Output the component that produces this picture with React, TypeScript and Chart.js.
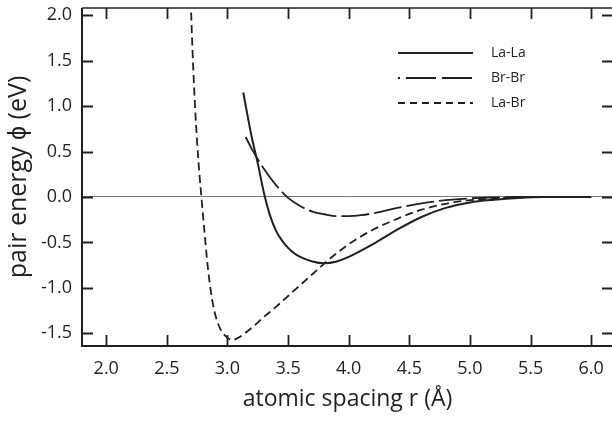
import React, { useEffect, useRef } from 'react';
import { Chart, registerables } from 'chart.js';

Chart.register(...registerables);

// ---- data ----
const seriesLabels = ['La-La', 'Br-Br', 'La-Br'];

const laLaR = [3.13, 3.2, 3.25, 3.3, 3.35, 3.4, 3.45, 3.5, 3.55, 3.6, 3.7, 3.8, 3.9, 4.0, 4.2, 4.4, 4.6, 4.8, 5.0, 5.2, 5.4, 5.6, 5.8, 6.0];
const laLaE = [1.15, 0.66, 0.37, 0.05, -0.2, -0.37, -0.48, -0.56, -0.62, -0.66, -0.71, -0.73, -0.71, -0.66, -0.52, -0.36, -0.22, -0.12, -0.06, -0.03, -0.01, 0, 0, 0];

const brBrR = [3.15, 3.2, 3.3, 3.4, 3.5, 3.6, 3.7, 3.8, 3.9, 4.0, 4.1, 4.2, 4.4, 4.6, 4.8, 5.0, 5.2, 5.4, 5.6, 6.0];
const brBrE = [0.66, 0.53, 0.31, 0.13, -0.01, -0.1, -0.16, -0.19, -0.21, -0.21, -0.2, -0.18, -0.12, -0.07, -0.035, -0.015, -0.005, 0, 0, 0];

const laBrR = [2.7, 2.715, 2.735, 2.76, 2.785, 2.81, 2.84, 2.88, 2.93, 3.0, 3.05, 3.1, 3.2, 3.3, 3.4, 3.5, 3.6, 3.7, 3.8, 3.9, 4.0, 4.2, 4.4, 4.6, 4.8, 5.0, 5.2, 5.4, 5.6, 6.0];
const laBrE = [2.03, 1.5, 0.93, 0.4, 0.0, -0.38, -0.8, -1.18, -1.42, -1.55, -1.57, -1.54, -1.44, -1.32, -1.21, -1.09, -0.97, -0.85, -0.73, -0.62, -0.52, -0.36, -0.24, -0.14, -0.075, -0.035, -0.015, -0.005, 0, 0];

const xTicks = [2.0, 2.5, 3.0, 3.5, 4.0, 4.5, 5.0, 5.5, 6.0];
const yTicks = [-1.5, -1.0, -0.5, 0.0, 0.5, 1.0, 1.5, 2.0];
const xRange = [1.8, 6.18];
const yRange = [-1.64, 2.08];

const xTitle = 'atomic spacing r (Å)';
const yTitle = 'pair energy ϕ (eV)';

const INK = '#231f20';
const FONT = "'Open Sans', sans-serif";

const toPts = (xs: number[], ys: number[]) => xs.map((x, i) => ({ x, y: ys[i] }));

const framePlugin = {
  id: 'frameTicksLegend',
  afterDatasetsDraw(chart: any) {
    const { ctx, chartArea, scales } = chart;
    const { left, right, top, bottom } = chartArea;
    const xs = scales.x;
    const ys = scales.y;
    ctx.save();
    ctx.strokeStyle = INK;
    ctx.lineCap = 'butt';
    // frame
    ctx.lineWidth = 2;
    ctx.beginPath();
    ctx.moveTo(left, top);
    ctx.lineTo(left, bottom);
    ctx.lineTo(right, bottom);
    ctx.stroke();
    ctx.lineWidth = 1.6;
    ctx.beginPath();
    ctx.moveTo(left, top);
    ctx.lineTo(right, top);
    ctx.moveTo(right, top);
    ctx.lineTo(right, bottom);
    ctx.stroke();
    // inner ticks
    const tl = 11;
    ctx.lineWidth = 1.8;
    ctx.beginPath();
    xTicks.forEach((v) => {
      const p = Math.round(xs.getPixelForValue(v)) + 0.5;
      ctx.moveTo(p, bottom);
      ctx.lineTo(p, bottom - tl);
      ctx.moveTo(p, top);
      ctx.lineTo(p, top + tl);
    });
    yTicks.forEach((v) => {
      const p = Math.round(ys.getPixelForValue(v)) + 0.5;
      ctx.moveTo(left, p);
      ctx.lineTo(left + tl, p);
      ctx.moveTo(right, p);
      ctx.lineTo(right - tl, p);
    });
    ctx.stroke();
    // legend
    const lx0 = left + 316;
    const lx1 = left + 391;
    const tx = left + 409;
    chart.data.datasets.forEach((ds: any, i: number) => {
      const y = top + 45 + i * 25;
      ctx.save();
      ctx.strokeStyle = ds.borderColor;
      ctx.lineWidth = ds.borderWidth;
      ctx.setLineDash(ds.legendDash || []);
      ctx.lineDashOffset = ds.legendDashOffset || 0;
      ctx.beginPath();
      ctx.moveTo(lx0, y);
      ctx.lineTo(lx1, y);
      ctx.stroke();
      ctx.restore();
      ctx.fillStyle = INK;
      ctx.font = `14px ${FONT}`;
      ctx.textAlign = 'left';
      ctx.textBaseline = 'middle';
      ctx.fillText(ds.label, tx, y);
    });
    ctx.restore();
  },
};

export default function App() {
  const ref = useRef<HTMLCanvasElement | null>(null);
  useEffect(() => {
    if (!ref.current) return;
    const chart = new Chart(ref.current, {
      type: 'line',
      data: {
        datasets: [
          {
            label: seriesLabels[0],
            data: toPts(laLaR, laLaE),
            borderColor: INK,
            borderWidth: 2,
            borderDash: [],
            legendDash: [],
          } as any,
          {
            label: seriesLabels[1],
            data: toPts(brBrR, brBrE),
            borderColor: INK,
            borderWidth: 1.8,
            borderDash: [28, 5],
            legendDash: [30, 6],
            legendDashOffset: 28,
          } as any,
          {
            label: seriesLabels[2],
            data: toPts(laBrR, laBrE),
            borderColor: INK,
            borderWidth: 1.8,
            borderDash: [8, 4.5],
            legendDash: [7, 5],
          } as any,
        ].map((d) => ({
          ...d,
          pointRadius: 0,
          pointHoverRadius: 0,
          fill: false,
          cubicInterpolationMode: 'monotone',
          showLine: true,
        })),
      },
      options: {
        animation: false,
        responsive: false,
        devicePixelRatio: 1,
        events: [],
        layout: { padding: { top: 8, right: 3, left: 0, bottom: 0 } },
        plugins: {
          legend: { display: false },
          tooltip: { enabled: false },
        },
        scales: {
          x: {
            type: 'linear',
            min: xRange[0],
            max: xRange[1],
            afterBuildTicks: (s: any) => {
              s.ticks = xTicks.map((v) => ({ value: v }));
            },
            afterFit: (s: any) => {
              s.height = 81;
              s.paddingLeft = 0;
              s.paddingRight = 0;
            },
            border: { display: false },
            grid: { display: false, drawTicks: false },
            ticks: {
              color: INK,
              font: { family: FONT, size: 18 },
              padding: 12,
              maxRotation: 0,
              autoSkip: false,
              callback: (v: any) => Number(v).toFixed(1),
            },
            title: {
              display: true,
              text: xTitle,
              color: INK,
              font: { family: FONT, size: 23 },
              padding: { top: 0, bottom: 14 },
            },
          },
          y: {
            type: 'linear',
            min: yRange[0],
            max: yRange[1],
            afterBuildTicks: (s: any) => {
              s.ticks = yTicks.map((v) => ({ value: v }));
            },
            afterFit: (s: any) => {
              s.width = 82;
              s.paddingTop = 0;
              s.paddingBottom = 0;
            },
            border: { display: false },
            grid: {
              drawTicks: false,
              lineWidth: 1,
              color: (c: any) => (c.tick && c.tick.value === 0 ? '#7a7a7a' : 'rgba(0,0,0,0)'),
            },
            ticks: {
              color: INK,
              font: { family: FONT, size: 18 },
              padding: 10,
              autoSkip: false,
              callback: (v: any) => Number(v).toFixed(1),
            },
            title: {
              display: true,
              text: yTitle,
              color: INK,
              font: { family: FONT, size: 25 },
              padding: { top: 4, bottom: 0 },
            },
          },
        },
      } as any,
      plugins: [framePlugin],
    });
    return () => chart.destroy();
  }, []);

  return (
    <div style={{ position: 'fixed', left: 0, top: 0, width: 616, height: 427, background: '#fff' }}>
      <canvas ref={ref} width={616} height={427} style={{ width: 616, height: 427, display: 'block' }} />
    </div>
  );
}
